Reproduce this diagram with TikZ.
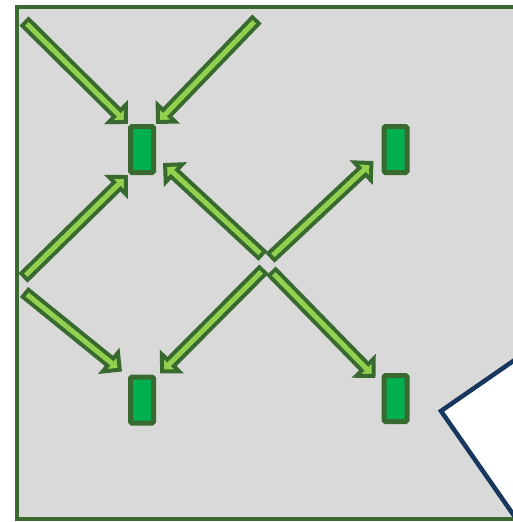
\documentclass[tikz,border=0pt]{standalone}
\usepackage{tikz}
\usetikzlibrary{arrows.meta,positioning,calc}
\definecolor{frameGreen}{HTML}{38692F}
\definecolor{arrowGreen}{HTML}{92D050}
\definecolor{cellGreen}{HTML}{00B050}
\definecolor{bgGray}{HTML}{D9D9D9}
\definecolor{edgeBlue}{HTML}{17375E}

\begin{document}
\begin{tikzpicture}[
    x=1pt,y=-1pt,
    cell/.style={rectangle,draw=frameGreen,fill=cellGreen,line width=5pt,
                 rounded corners=1.5pt,minimum width=23pt,minimum height=46pt,
                 inner sep=0pt},
    farrow/.style={draw=frameGreen,line width=13pt,
                   -{Triangle[width=33pt,length=17pt,line width=4pt,fill=arrowGreen]},
                   postaction={draw=arrowGreen,line width=5pt,-,
                               shorten <=4pt,shorten >=12pt}}
  ]
  \useasboundingbox (0,0) rectangle (512,522);
  %% Gray field and white wedge
  \draw[frameGreen,fill=bgGray,line width=4pt] (17,7) rectangle (540,519);
  \draw[edgeBlue,fill=white,line width=4.5pt] (441,411) -- (545,339) -- (545,560) -- cycle;
  %% Cells
  \node[cell] (nw) at (142,149.5) {};
  \node[cell] (ne) at (395.5,149.5) {};
  \node[cell] (sw) at (142,400) {};
  \node[cell] (se) at (395.5,398.5) {};
  %% Free tails
  \coordinate (t1) at (24,21);
  \coordinate (t2) at (257,19);
  \coordinate (t3) at (23,278);
  \coordinate (t4) at (263,256);
  \coordinate (t5) at (24,292);
  \coordinate (t6) at (264,269);
  \coordinate (t7) at (270,258);
  \coordinate (t8) at (271,271);
  %% Arrows into the cells
  \draw[farrow] (t1) -- (nw.north west);
  \draw[farrow] (t2) -- (nw.north east);
  \draw[farrow] (t3) -- (nw.south west);
  \draw[farrow] (t4) -- ($(nw.south east)+(7,-12)$);
  \draw[farrow] (t5) -- ($(sw.north west)+(-6,-3)$);
  \draw[farrow] (t6) -- ($(sw.north east)+(4,-1)$);
  \draw[farrow] (t7) -- ($(ne.south west)+(-8,-14)$);
  \draw[farrow] (t8) -- ($(se.north west)+(-6,5)$);
\end{tikzpicture}
\end{document}
